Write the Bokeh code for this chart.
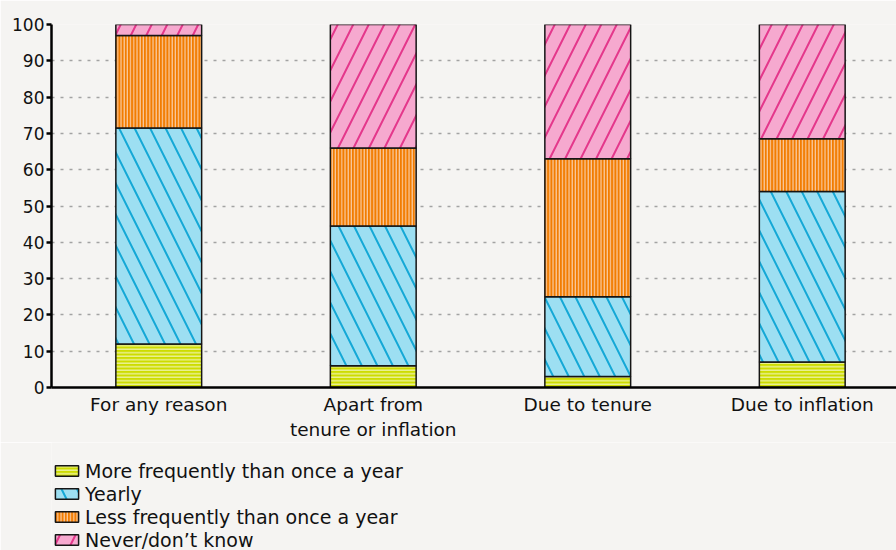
from bokeh.plotting import figure
from bokeh.layouts import column
from bokeh.models import Range1d, FixedTicker, Legend, LegendItem, ColumnDataSource
from bokeh.embed import file_html
from bokeh.resources import INLINE

# ---- data ----
categories = ["For any reason", "Apart from\ntenure or inflation", "Due to tenure", "Due to inflation"]
series_labels = ["More frequently than once a year", "Yearly",
                 "Less frequently than once a year", "Never/don\u2019t know"]
more_frequent = [12, 6, 3, 7]
yearly = [59.5, 38.5, 22, 47]
less_frequent = [25.5, 21.5, 38, 14.5]
never = [3, 34, 37, 31.5]
y_ticks = [0, 10, 20, 30, 40, 50, 60, 70, 80, 90, 100]

# ---- styling ----
BG = "#f5f4f2"
FONT = "DejaVu Sans"
fills = ["#cddc00", "#9ddff2", "#f27c00", "#f6a9cf"]
hatch_colors = ["#eef4a4", "#14a8d6", "#f9cba2", "#e4378b"]
hatch_patterns = ["-", "\\", "|", "/"]
hatch_scales = [3.5, 31, 3.2, 31]
hatch_weights = [1.3, 2.0, 1.2, 2.0]
style = dict(fill_color=fills, hatch_pattern=hatch_patterns, hatch_color=hatch_colors,
             hatch_scale=hatch_scales, hatch_weight=hatch_weights)

xs = [i + 0.5 for i in range(len(categories))]
stackers = ["more", "yearly", "less", "never"]
source = ColumnDataSource(dict(x=xs, more=more_frequent, yearly=yearly,
                               less=less_frequent, never=never))

W = 896
frame_w = W - 51
unit_px = 214.5
p = figure(width=W, frame_width=frame_w, frame_height=363,
           x_range=Range1d(0, frame_w / unit_px), y_range=Range1d(0, 100),
           output_backend="svg", toolbar_location=None,
           min_border_left=51, min_border_right=0, min_border_top=24, min_border_bottom=53,
           background_fill_color=BG, border_fill_color=BG, outline_line_color=None)

p.vbar_stack(stackers, x="x", width=0.4, source=source,
             line_color="#151515", line_width=1.5, **style)

# x axis
p.xaxis.ticker = FixedTicker(ticks=xs)
p.xaxis.major_label_overrides = {x: c for x, c in zip(xs, categories)}
p.xaxis.major_tick_out = 0
p.xaxis.major_tick_in = 0
p.xaxis.minor_tick_out = 0
p.xaxis.minor_tick_in = 0
p.xaxis.axis_line_width = 2.5
p.xaxis.axis_line_color = "#000000"
p.xaxis.major_label_text_font = FONT
p.xaxis.major_label_text_font_size = "18.5px"
p.xaxis.major_label_text_color = "#111111"
p.xaxis.major_label_standoff = 6

# y axis
p.yaxis.ticker = FixedTicker(ticks=y_ticks)
p.yaxis.major_tick_out = 5
p.yaxis.major_tick_in = 0
p.yaxis.minor_tick_out = 0
p.yaxis.minor_tick_in = 0
p.yaxis.major_tick_line_width = 2.5
p.yaxis.major_tick_line_color = "#000000"
p.yaxis.axis_line_width = 2.5
p.yaxis.axis_line_color = "#000000"
p.yaxis.major_label_text_font = FONT
p.yaxis.major_label_text_font_size = "17px"
p.yaxis.major_label_text_color = "#111111"
p.yaxis.major_label_standoff = 2

# grid
p.xgrid.visible = False
p.ygrid.ticker = FixedTicker(ticks=y_ticks)
p.ygrid.grid_line_color = "#a3a3a3"
p.ygrid.grid_line_dash = "3 6"
p.ygrid.grid_line_width = 1.5

# ---- legend strip below the chart ----
# same stacked glyphs (kept out of view) so the legend shows the hatched swatches
LH = 110
lg = figure(width=W, height=LH, x_range=Range1d(100, 101), y_range=Range1d(1000, 1001),
            output_backend="svg", toolbar_location=None,
            x_axis_location=None, y_axis_location=None,
            min_border_left=0, min_border_right=0, min_border_top=0, min_border_bottom=0,
            background_fill_color=BG, border_fill_color=BG, outline_line_color=None)
lg.xgrid.visible = False
lg.ygrid.visible = False
legend_renderers = lg.vbar_stack(stackers, x="x", width=0.4, source=source,
                                 line_color="#151515", line_width=1.5, **style)

legend = Legend(items=[LegendItem(label=lab, renderers=[r]) for lab, r in zip(series_labels, legend_renderers)],
                location=(1, 1), orientation="vertical",
                padding=0, margin=0, spacing=0,
                label_height=23, glyph_height=13, glyph_width=29, label_standoff=4,
                label_text_font=FONT, label_text_font_size="19px", label_text_color="#111111",
                background_fill_alpha=0, border_line_color=None)
lg.add_layout(legend, "center")

layout = column(p, lg, spacing=0)
html = file_html(layout, INLINE)
html = html.replace("<body>", '<body style="background-color:%s;">' % BG, 1)
open("out.html", "w").write(html)
